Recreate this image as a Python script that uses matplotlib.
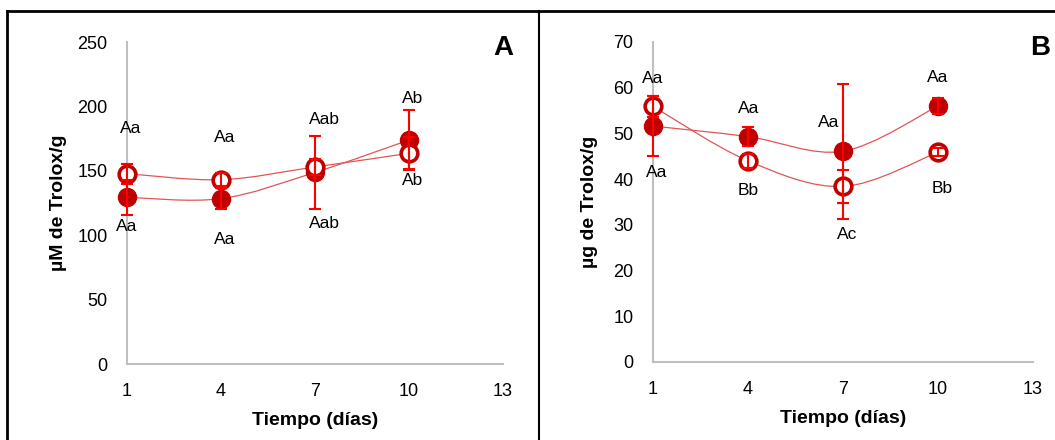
import matplotlib
matplotlib.use('Agg')
import matplotlib.pyplot as plt
from matplotlib.path import Path
from matplotlib.patches import PathPatch
from matplotlib.lines import Line2D
import numpy as np

plt.rcParams['font.family'] = ['Liberation Sans', 'DejaVu Sans']

dias = [1, 4, 7, 10]

# Panel A (µM de Trolox/g)
a_llena = [129.4, 128.4, 148.8, 173.9]
a_llena_err = [13.7, 8.0, 28.5, 23.0]
a_vacia = [147.8, 143.1, 153.0, 163.6]
a_vacia_err = [7.7, 5.0, 6.0, 12.5]
a_txt = ['Aa', 'Aa', 'Aa', 'Aa', 'Aab', 'Aab', 'Ab', 'Ab']
a_txt_x = [1.13, 0.99, 4.13, 4.13, 7.29, 7.29, 10.12, 10.12]
a_txt_y = [182.7, 106.9, 176.0, 96.5, 190.0, 109.0, 206.0, 142.3]

# Panel B (µg de Trolox/g)
b_llena = [51.6, 49.3, 46.1, 56.0]
b_llena_err = [6.5, 2.0, 14.8, 1.8]
b_vacia = [55.9, 44.0, 38.4, 45.9]
b_vacia_err = [2.3, 1.5, 3.6, 0.8]
b_txt = ['Aa', 'Aa', 'Aa', 'Bb', 'Aa', 'Ac', 'Aa', 'Bb']
b_txt_x = [0.98, 1.1, 4.02, 4.02, 6.54, 7.12, 10.0, 10.13]
b_txt_y = [62.0, 41.4, 55.5, 37.5, 52.3, 27.8, 62.2, 38.0]

rojo = '#c00000'
linea = '#e05555'
barra = '#ff0000'


def curva(ax, x, y):
    # curva suavizada tipo Excel (Catmull-Rom -> Bezier)
    x = np.asarray(x, float)
    y = np.asarray(y, float)
    verts = [(x[0], y[0])]
    codes = [Path.MOVETO]
    n = len(x)
    for i in range(n - 1):
        x0, y0 = (x[i - 1], y[i - 1]) if i > 0 else (x[i], y[i])
        x3, y3 = (x[i + 2], y[i + 2]) if i + 2 < n else (x[i + 1], y[i + 1])
        c1 = (x[i] + (x[i + 1] - x0) / 6, y[i] + (y[i + 1] - y0) / 6)
        c2 = (x[i + 1] - (x3 - x[i]) / 6, y[i + 1] - (y3 - y[i]) / 6)
        verts += [c1, c2, (x[i + 1], y[i + 1])]
        codes += [Path.CURVE4] * 3
    ax.add_patch(PathPatch(Path(verts, codes), fill=False, ec=linea, lw=0.9, zorder=2,
                           clip_on=False))


def panel(ax, llena, llena_err, vacia, vacia_err, ymax, ystep, ylab, ypad, letra, lx,
          txt, tx, ty):
    curva(ax, dias, llena)
    curva(ax, dias, vacia)
    ax.plot(dias, llena, 'o', color=rojo, ms=13, zorder=3, clip_on=False)
    ax.plot(dias, vacia, 'o', mfc='white', mec=rojo, mew=2.6, ms=12, zorder=3, clip_on=False)
    for v, e in [(llena, llena_err), (vacia, vacia_err)]:
        eb = ax.errorbar(dias, v, yerr=e, fmt='none', ecolor=barra, elinewidth=1.5,
                         capsize=4, capthick=1.5, zorder=4)
        for art in eb.lines[1] + eb.lines[2]:
            art.set_clip_on(False)
    for t, x, y in zip(txt, tx, ty):
        ax.text(x, y, t, ha='center', va='center', fontsize=12.5, zorder=5)
    ax.set_xlim(1, 13)
    ax.set_ylim(0, ymax)
    ax.set_xticks([1, 4, 7, 10, 13])
    ax.set_yticks(np.arange(0, ymax + 1, ystep))
    ax.tick_params(length=0, labelsize=13, pad=14)
    for s in ['top', 'right']:
        ax.spines[s].set_visible(False)
    for s in ['left', 'bottom']:
        ax.spines[s].set_color('#bfbfbf')
        ax.spines[s].set_linewidth(1.5)
        ax.spines[s].set_zorder(1)
    ax.set_xlabel('Tiempo (días)', fontsize=14, fontweight='bold', labelpad=8)
    ax.set_ylabel(ylab, fontsize=14, fontweight='bold', labelpad=ypad)
    ax.text(lx, 0.981, letra, transform=ax.transAxes, ha='center', va='center',
            fontsize=20, fontweight='bold')


fig = plt.figure(figsize=(10.55, 4.4), dpi=100)
ax1 = fig.add_axes([0.1204, 0.1727, 0.3564, 0.7318])
ax2 = fig.add_axes([0.619, 0.1773, 0.3602, 0.7273])

panel(ax1, a_llena, a_llena_err, a_vacia, a_vacia_err, 250, 50, 'µM de Trolox/g', 7.5,
      'A', 1.0, a_txt, a_txt_x, a_txt_y)
panel(ax2, b_llena, b_llena_err, b_vacia, b_vacia_err, 70, 10, 'µg de Trolox/g', 11,
      'B', 1.018, b_txt, b_txt_x, b_txt_y)

# marco de la figura
fig.add_artist(Line2D([0.0062, 0.0062], [0.0, 0.975], color='black', lw=2))
fig.add_artist(Line2D([0.0062, 1.0], [0.975, 0.975], color='black', lw=2))
fig.add_artist(Line2D([0.511, 0.511], [0.0, 0.975], color='black', lw=1.5))

fig.savefig('out.png', dpi=100)
